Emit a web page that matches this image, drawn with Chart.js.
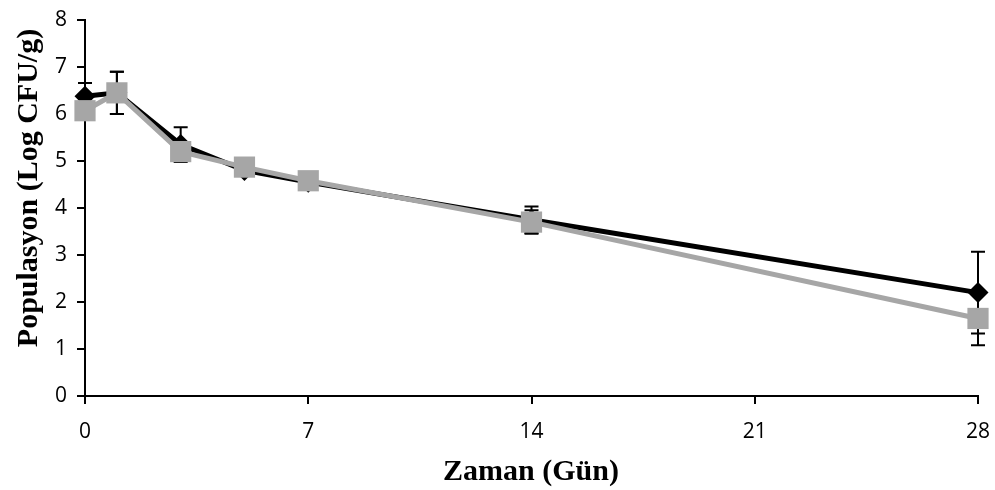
<!DOCTYPE html>
<html>
<head>
<meta charset="utf-8">
<script src="https://cdn.jsdelivr.net/npm/chart.js@4/dist/chart.umd.min.js"></script>
<style>
  html, body { margin: 0; padding: 0; background: #fff; }
  #wrap { width: 995px; height: 490px; }
</style>
</head>
<body>
<div id="wrap"><canvas id="popChart" width="995" height="490"></canvas></div>
<script>
// Data
const days = [0, 1, 3, 5, 7, 14, 28];
const seriesA = [6.38, 6.45, 5.35, 4.8, 4.55, 3.75, 2.2];   // black diamonds
const seriesB = [6.07, 6.45, 5.2, 4.87, 4.58, 3.7, 1.65];   // grey squares
const errA = [0.28, 0.45, 0.37, 0.05, 0.05, 0.28, 0.87];
const errB = [0.1, 0.45, 0.1, 0.05, 0.05, 0.25, 0.57];
const xTicks = [0, 7, 14, 21, 28];
const xTitle = 'Zaman (Gün)';
const yTitle = 'Populasyon (Log CFU/g)';

// error bars, drawn under the lines and markers
const errorBars = {
    id: 'errorBars',
    beforeDatasetsDraw(chart) {
        const ctx = chart.ctx;
        const x = chart.scales.x, y = chart.scales.y;
        const errs = [errA, errB];
        ctx.save();
        ctx.strokeStyle = '#000';
        ctx.lineWidth = 2;
        chart.data.datasets.forEach((ds, i) => {
            ds.data.forEach((p, j) => {
                const e = errs[i][j];
                const px = x.getPixelForValue(p.x);
                const top = y.getPixelForValue(p.y + e);
                const bot = y.getPixelForValue(p.y - e);
                ctx.beginPath();
                ctx.moveTo(px, top); ctx.lineTo(px, bot);
                ctx.moveTo(px - 7, top); ctx.lineTo(px + 7, top);
                ctx.moveTo(px - 7, bot); ctx.lineTo(px + 7, bot);
                ctx.stroke();
            });
        });
        ctx.restore();
    }
};

// axis titles placed like the original
const axisTitles = {
    id: 'axisTitles',
    afterDraw(chart) {
        const ctx = chart.ctx;
        ctx.save();
        ctx.fillStyle = '#000';
        ctx.font = 'bold 30px "Liberation Serif"';
        ctx.textAlign = 'center';
        ctx.textBaseline = 'middle';
        ctx.fillText(xTitle, 531, 472);
        ctx.translate(29, 188);
        ctx.rotate(-Math.PI / 2);
        ctx.fillText(yTitle, 0, 0);
        ctx.restore();
    }
};

const ctx = document.getElementById('popChart').getContext('2d');
new Chart(ctx, {
    type: 'line',
    data: {
        datasets: [{
            label: 'A',
            data: days.map((d, i) => ({ x: d, y: seriesA[i] })),
            borderColor: '#000',
            backgroundColor: '#000',
            borderWidth: 5,
            pointStyle: 'rectRot',
            pointRadius: 10.5,
            pointBorderWidth: 0,
            tension: 0,
            clip: false,
            order: 2
        }, {
            label: 'B',
            data: days.map((d, i) => ({ x: d, y: seriesB[i] })),
            borderColor: '#a6a6a6',
            backgroundColor: '#a6a6a6',
            borderWidth: 5,
            pointStyle: 'rect',
            pointRadius: 15,
            pointBorderWidth: 0,
            tension: 0,
            clip: false,
            order: 1
        }]
    },
    options: {
        responsive: false,
        animation: false,
        layout: { autoPadding: false, padding: { top: 20, right: 17, left: 0, bottom: 0 } },
        plugins: {
            legend: { display: false },
            tooltip: { enabled: false }
        },
        scales: {
            x: {
                type: 'linear',
                min: 0,
                max: 28,
                afterBuildTicks: s => { s.ticks = xTicks.map(v => ({ value: v })); },
                afterFit: s => { s.height = 94; s.paddingLeft = 0; s.paddingRight = 0; },
                border: { color: '#000', width: 2 },
                grid: { drawOnChartArea: false, color: '#000', lineWidth: 2, tickLength: 8 },
                ticks: { color: '#000', font: { family: 'Open Sans', size: 21 }, padding: 15 }
            },
            y: {
                min: 0,
                max: 8,
                afterFit: s => { s.width = 85; s.paddingTop = 0; s.paddingBottom = 0; },
                border: { color: '#000', width: 2 },
                grid: { drawOnChartArea: false, color: '#000', lineWidth: 2, tickLength: 8 },
                ticks: { stepSize: 1, color: '#000', font: { family: 'Open Sans', size: 21 }, padding: 10 }
            }
        }
    },
    plugins: [errorBars, axisTitles]
});
</script>
</body>
</html>
